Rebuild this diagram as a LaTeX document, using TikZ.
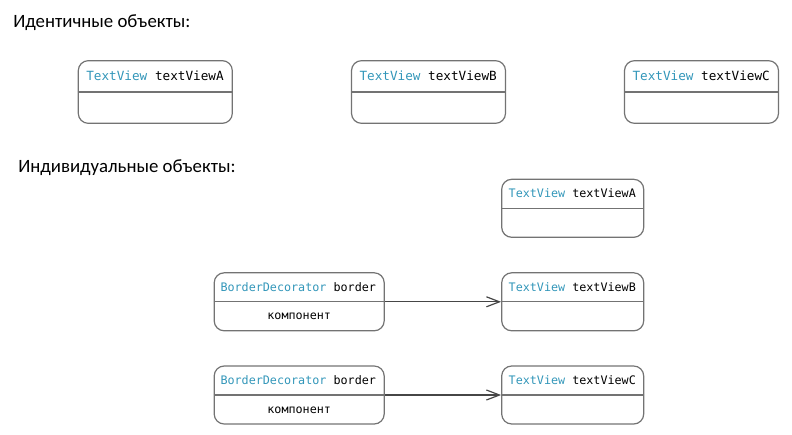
\documentclass[tikz,border=0pt]{standalone}
\usepackage{fontspec}
\setmainfont{Carlito}
\newfontfamily\codefont{DejaVu Sans Mono}
\usetikzlibrary{arrows.meta,calc}
\definecolor{typeblue}{RGB}{50,150,185}
\definecolor{boxline}{RGB}{115,115,115}
\definecolor{arrowgray}{RGB}{70,70,70}
\begin{document}
\begin{tikzpicture}[x=0.75pt,y=-0.75pt,
  objbase/.style={draw=boxline, line width=0.9pt, rounded corners=7.5pt, inner sep=0pt},
  tvbig/.style={objbase, minimum width=115.5pt, minimum height=47pt},
  tvsmall/.style={objbase, minimum width=106.5pt, minimum height=43.5pt},
  bdbox/.style={objbase, minimum width=127.5pt, minimum height=43.5pt},
  divider/.style={draw=boxline, line width=0.9pt},
  hdrbig/.style={anchor=west, inner sep=0pt, font=\codefont\fontsize{9.5}{11}\selectfont},
  hdrsmall/.style={anchor=west, inner sep=0pt, font=\codefont\fontsize{8.8}{10}\selectfont},
  heading/.style={anchor=base west, inner sep=0pt, font=\fontsize{14.1}{17}\selectfont},
  refarrow/.style={draw=arrowgray, line width=0.9pt, -{Straight Barb[length=9.75pt,width=7.5pt]}}
]
\useasboundingbox (0,0) rectangle (792,435);

% headings
\node[heading] (h1) at (13,28) {Идентичные объекты:};
\node[heading] (h2) at (18,172) {Индивидуальные объекты:};

% identical objects
\node[tvbig] (ta) at (155.3,92) {};
\node[tvbig] (tb) at (428.5,92) {};
\node[tvbig] (tc) at (701.5,92) {};
\foreach \n/\l in {ta/A,tb/B,tc/C}{
  \draw[divider] (\n.west) -- (\n.east);
  \node[hdrbig] (\n-hdr) at ([xshift=6.3pt]$(\n.north west)!.25!(\n.south west)$) {{\color{typeblue}TextView} textView\l};
}

% individual objects
\node[tvsmall] (ia) at (572.7,208.3) {};
\node[tvsmall] (ib) at (572.7,301.8) {};
\node[tvsmall] (ic) at (572.7,395) {};
\foreach \n/\l in {ia/A,ib/B,ic/C}{
  \draw[divider] (\n.west) -- (\n.east);
  \node[hdrsmall] (\n-hdr) at ([xshift=5.5pt]$(\n.north west)!.25!(\n.south west)$) {{\color{typeblue}TextView} textView\l};
}

\node[bdbox] (bb) at (299.2,301.8) {};
\node[bdbox] (bc) at (299.2,395) {};
\foreach \n in {bb,bc}{
  \draw[divider] (\n.west) -- (\n.east);
  \node[hdrsmall] (\n-hdr) at ([xshift=5pt]$(\n.north west)!.25!(\n.south west)$) {{\color{typeblue}BorderDecorator} border};
  \node[hdrsmall, anchor=center] (\n-fld) at ($(\n.north)!.75!(\n.south)$) {компонент};
}

\draw[refarrow] (bb.east) -- (ib.west);
\draw[refarrow] (bc.east) -- (ic.west);
\end{tikzpicture}
\end{document}
